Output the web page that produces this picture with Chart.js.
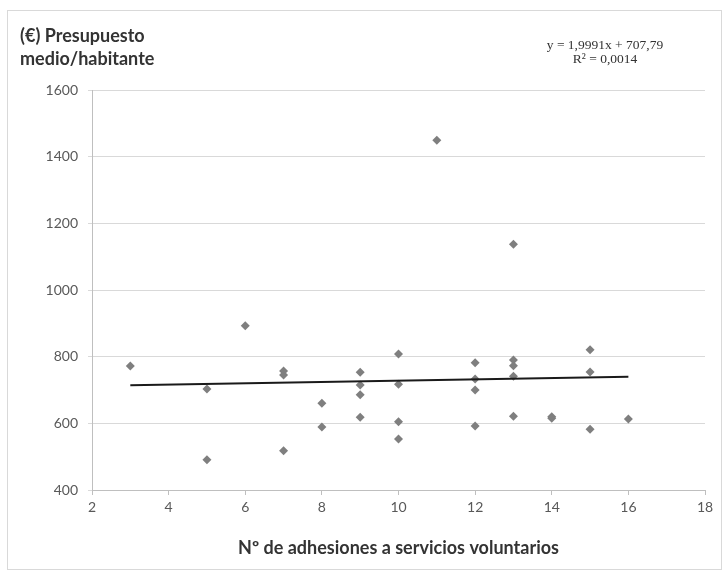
<!DOCTYPE html>
<html>
<head>
<meta charset="utf-8">
<script src="https://cdn.jsdelivr.net/npm/chart.js@4/dist/chart.umd.min.js"></script>
<style>
  body { margin: 0; background: #fff; }
  #wrap { position: relative; width: 728px; height: 575px; }
  #frame { position: absolute; left: 7px; top: 10px; width: 713px; height: 558px; border: 1px solid #d9d9d9; pointer-events: none; }
  #ytitle { position: absolute; left: 20px; top: 24px; font: bold 18px Lato, sans-serif; color: #333; line-height: 23px; }
  #eq { position: absolute; left: 530px; top: 38px; width: 150px; text-align: center; font: 13.5px "Liberation Serif", serif; color: #333; line-height: 14px; }
  canvas { position: absolute; left: 0; top: 0; }
</style>
</head>
<body>
<div id="wrap">
  <canvas id="chart" width="728" height="575"></canvas>
  <div id="frame"></div>
  <div id="ytitle">(€) Presupuesto<br>medio/habitante</div>
  <div id="eq">y = 1,9991x + 707,79<br>R² = 0,0014</div>
</div>
<script>
// --- DATA ---
const adhesiones = [3, 5, 5, 6, 7, 7, 7, 8, 8, 9, 9, 9, 9, 10, 10, 10, 10, 11,
                    12, 12, 12, 12, 13, 13, 13, 13, 13, 14, 14, 15, 15, 15, 16];
const presupuesto = [772, 703, 491, 893, 757, 745, 518, 660, 589, 753, 715, 686, 618, 808, 717, 605, 553, 1449,
                     782, 733, 700, 592, 1137, 790, 773, 741, 621, 620, 615, 821, 754, 582, 613];
const tendenciaX = [3, 16];
const tendenciaY = [714, 740];
const xTicks = [2, 4, 6, 8, 10, 12, 14, 16, 18];
const yTicks = [400, 600, 800, 1000, 1200, 1400, 1600];

const puntos = adhesiones.map((x, i) => ({ x: x, y: presupuesto[i] }));
const linea = tendenciaX.map((x, i) => ({ x: x, y: tendenciaY[i] }));

const tickFont = { family: 'Lato, sans-serif', size: 14 };

new Chart(document.getElementById('chart'), {
    type: 'scatter',
    data: {
        datasets: [
            // linea de tendencia primero -> se dibuja encima
            { data: linea, showLine: true, borderColor: '#1a1a1a', borderWidth: 2, pointRadius: 0 },
            { data: puntos, pointStyle: 'rectRot', pointRadius: 4.5, backgroundColor: '#7f7f7f', borderWidth: 0 }
        ]
    },
    options: {
        responsive: false,
        animation: false,
        devicePixelRatio: 1,
        layout: { padding: { left: 0, top: 90, right: 23, bottom: 0 } },
        plugins: { legend: { display: false }, tooltip: { enabled: false } },
        scales: {
            x: {
                min: 2, max: 18,
                afterBuildTicks: s => { s.ticks = xTicks.map(v => ({ value: v })); },
                afterFit: s => { s.height = 85; },
                grid: { drawOnChartArea: false, color: '#bfbfbf', tickLength: 5 },
                border: { color: '#bfbfbf' },
                ticks: { font: tickFont, color: '#595959', padding: 4, maxRotation: 0, callback: v => String(v) },
                title: {
                    display: true,
                    text: 'Nº de adhesiones a servicios voluntarios',
                    font: { family: 'Lato, sans-serif', size: 18, weight: 'bold' },
                    color: '#333',
                    padding: { top: 0, bottom: 16 }
                }
            },
            y: {
                min: 400, max: 1600,
                afterBuildTicks: s => { s.ticks = yTicks.map(v => ({ value: v })); },
                afterFit: s => { s.width = 92; },
                grid: { color: '#d9d9d9', tickLength: 4 },
                border: { color: '#bfbfbf' },
                ticks: { font: tickFont, color: '#595959', padding: 10, callback: v => String(v) }
            }
        }
    }
});
</script>
</body>
</html>
